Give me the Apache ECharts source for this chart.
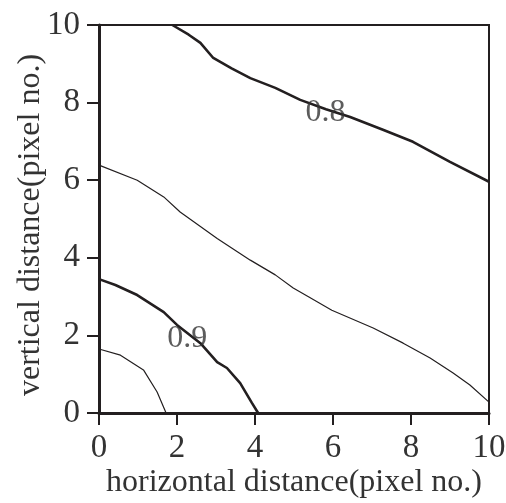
<!DOCTYPE html>
<html>
<head>
<meta charset="utf-8">
<script src="https://cdn.jsdelivr.net/npm/echarts@6/dist/echarts.min.js"></script>
<style>
  html, body { margin: 0; padding: 0; background: #fff; }
  #chart { width: 506px; height: 503px; }
</style>
</head>
<body>
<div id="chart"></div>
<script>
// contour lines, [x, y] in pixel no.
var contour08 = [[1.88, 10], [2.3, 9.75], [2.6, 9.54], [2.93, 9.15], [3.4, 8.88], [3.88, 8.63], [4.52, 8.38], [5.16, 8.07], [5.82, 7.83], [6.44, 7.63], [7.28, 7.3], [8.05, 6.99], [9.0, 6.47], [10, 5.96]]
var contour085 = [[0, 6.39], [0.98, 6.0], [1.66, 5.57], [2.08, 5.18], [3.03, 4.5], [3.88, 3.94], [4.52, 3.56], [4.98, 3.22], [5.36, 3.0], [5.97, 2.65], [7.03, 2.19], [7.8, 1.8], [8.49, 1.42], [9.08, 1.03], [9.51, 0.72], [10, 0.28]]
var contour09 = [[0, 3.45], [0.42, 3.3], [0.98, 3.04], [1.66, 2.6], [2.0, 2.27], [2.6, 1.8], [3.03, 1.31], [3.28, 1.16], [3.62, 0.77], [3.92, 0.26], [4.08, 0]]
var contour095 = [[0, 1.65], [0.55, 1.49], [1.14, 1.11], [1.49, 0.54], [1.72, 0]]
var lineLabels = [{ name: '0.8', value: [5.81, 7.73] }, { name: '0.9', value: [2.26, 1.91] }]

var ink = '#231f20'
var font = 'Liberation Serif'

function axis (name, extra) {
  var a = {
    type: 'value',
    min: 0,
    max: 10,
    interval: 2,
    name: name,
    nameLocation: 'middle',
    nameMoveOverlap: false,
    nameTextStyle: { fontFamily: font, fontSize: 32, color: '#333' },
    axisLine: { show: true, onZero: false, lineStyle: { color: ink, width: 3 } },
    axisTick: { show: true, inside: false, length: 12, lineStyle: { color: ink, width: 2 } },
    axisLabel: { fontFamily: font, fontSize: 33, color: '#333', margin: 19 },
    splitLine: { show: false }
  }
  return Object.assign(a, extra)
}

function contour (data, width) {
  return {
    type: 'line',
    data: data,
    symbol: 'none',
    smooth: false,
    silent: true,
    lineStyle: { color: ink, width: width }
  }
}

var chart = echarts.init(document.getElementById('chart'))
chart.setOption({
  animation: false,
  grid: {
    left: 99, right: 17, top: 25, bottom: 90,
    containLabel: false, outerBoundsMode: 'none',
    show: true, borderColor: ink, borderWidth: 2
  },
  xAxis: axis('horizontal distance(pixel no.)', { nameGap: 54 }),
  yAxis: axis('vertical distance(pixel no.)', {
    nameGap: 52,
    nameTextStyle: { fontFamily: font, fontSize: 32, color: '#333', padding: [0, 12, 0, 0] }
  }),
  series: [
    contour(contour08, 2.6),
    contour(contour085, 1.2),
    contour(contour09, 2.6),
    contour(contour095, 1.2),
    {
      type: 'scatter',
      data: lineLabels,
      symbolSize: 1,
      itemStyle: { color: 'rgba(0,0,0,0)' },
      silent: true,
      z: 5,
      label: {
        show: true,
        position: 'inside',
        formatter: '{b}',
        fontFamily: font,
        fontSize: 32,
        color: '#333'
      }
    }
  ]
})
</script>
</body>
</html>
